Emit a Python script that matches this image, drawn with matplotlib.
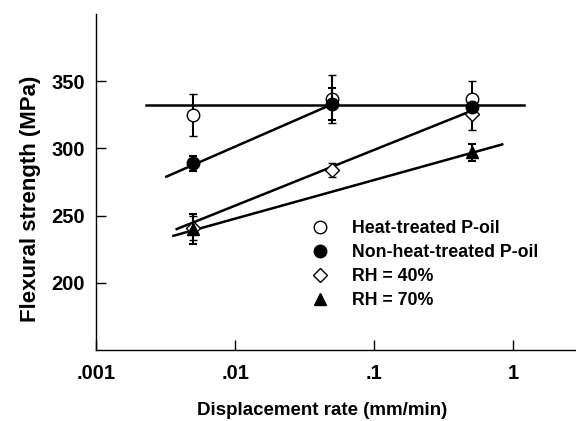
import numpy as np
import matplotlib
matplotlib.use("Agg")
import matplotlib.pyplot as plt
from matplotlib.ticker import FixedLocator, FixedFormatter, NullLocator
from matplotlib.lines import Line2D

plt.rcParams['font.family'] = ['Liberation Sans', 'DejaVu Sans']
plt.rcParams['font.weight'] = 'bold'

# ---- data ----
rates = [0.005, 0.05, 0.5]

heat_vals = [325, 337, 337]
heat_err = [15.5, 18, 13]

nonheat_vals = [289, 333, 331]
nonheat_err = [5.5, 12, 0]

rh40_vals = [241, 284, 326]
rh40_err = [9, 5, 12]

rh70_vals = [240, np.nan, 297]
rh70_err = [11, 0, 6.5]

# fitted lines (endpoints)
fit_flat_x = [0.0023, 1.2]
fit_flat_y = [332, 332]
fit_nonheat_x = [0.0032, 0.05]
fit_nonheat_y = [279, 333]
fit_rh40_x = [0.0038, 0.5]
fit_rh40_y = [240, 328]
fit_rh70_x = [0.0036, 0.83]
fit_rh70_y = [235, 303]

xticks = [0.001, 0.01, 0.1, 1]
xticklabels = ['.001', '.01', '.1', '1']
yticks = [200, 250, 300, 350]

labels = ['Heat-treated P-oil', 'Non-heat-treated P-oil', 'RH = 40%', 'RH = 70%']

fig = plt.figure(figsize=(5.76, 4.21), dpi=100)
ax = fig.add_axes([0.1667, 0.1686, 0.84, 0.798])

lw = 1.8
for fx, fy in [(fit_flat_x, fit_flat_y), (fit_nonheat_x, fit_nonheat_y),
               (fit_rh40_x, fit_rh40_y), (fit_rh70_x, fit_rh70_y)]:
    ax.plot(fx, fy, color='black', lw=lw, zorder=2)

ebkw = dict(ecolor='black', elinewidth=1.5, capsize=2.8, capthick=1.5, linestyle='none')
ax.errorbar(rates, heat_vals, yerr=heat_err, fmt='o', mfc='white', mec='black',
            ms=9, mew=1.0, zorder=4, **ebkw)
ax.errorbar(rates, nonheat_vals, yerr=nonheat_err, fmt='o', mfc='black', mec='black',
            ms=9, zorder=5, **ebkw)
ax.errorbar(rates, rh40_vals, yerr=rh40_err, fmt='D', mfc='white', mec='black',
            ms=7, mew=1.0, zorder=4, **ebkw)
ax.errorbar(rates, rh70_vals, yerr=rh70_err, fmt='^', mfc='black', mec='black',
            ms=8, zorder=5, **ebkw)

ax.set_xscale('log')
ax.set_xlim(0.001, 3.0)
ax.set_ylim(150, 400)

ax.xaxis.set_major_locator(FixedLocator(xticks))
ax.xaxis.set_major_formatter(FixedFormatter(xticklabels))
ax.xaxis.set_minor_locator(NullLocator())
ax.yaxis.set_major_locator(FixedLocator(yticks))
ax.tick_params(direction='in', length=7, width=1.0, labelsize=14.5)
ax.tick_params(axis='y', pad=8)
ax.tick_params(axis='x', pad=10)
for lab in ax.get_xticklabels() + ax.get_yticklabels():
    lab.set_fontweight('bold')

for s in ['top', 'right']:
    ax.spines[s].set_visible(False)
for s in ['left', 'bottom']:
    ax.spines[s].set_linewidth(1.0)

ax.set_xlabel('Displacement rate (mm/min)', fontsize=13.5, fontweight='bold')
ax.set_ylabel('Flexural strength (MPa)', fontsize=16, fontweight='bold')
# label centres in figure pixels -> axes fraction
ax.xaxis.set_label_coords((322 - 96) / 484.0, (350 - 410) / 336.0)
ax.yaxis.set_label_coords((30 - 96) / 484.0, (350 - 199) / 336.0)
ax.xaxis.label.set_va('center')
ax.yaxis.label.set_va('center')

handles = [
    Line2D([], [], marker='o', ls='none', mfc='white', mec='black', ms=9, mew=1.0),
    Line2D([], [], marker='o', ls='none', mfc='black', mec='black', ms=9),
    Line2D([], [], marker='D', ls='none', mfc='white', mec='black', ms=7, mew=1.0),
    Line2D([], [], marker='^', ls='none', mfc='black', mec='black', ms=8),
]
leg = ax.legend(handles, labels, loc='upper left', bbox_to_anchor=(0.426, 0.408),
                frameon=False, fontsize=12.8, handlelength=1.2, handletextpad=1.2,
                labelspacing=0.4, borderaxespad=0)
for t in leg.get_texts():
    t.set_fontweight('bold')

fig.savefig('out.png', dpi=100)
